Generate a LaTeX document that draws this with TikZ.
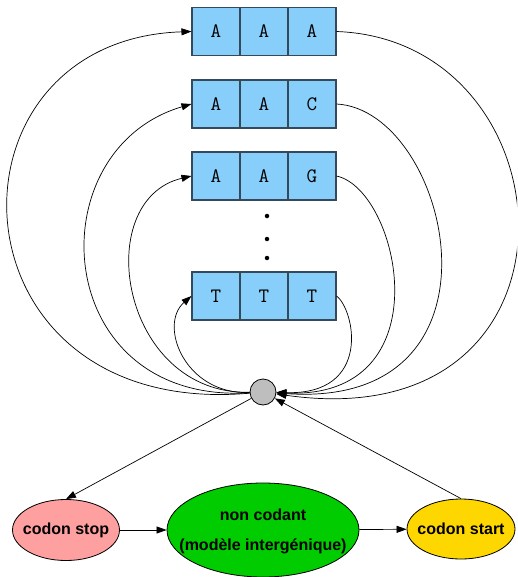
\documentclass[tikz,border=0pt]{standalone}
\usepackage{fontspec}
\setmainfont{Liberation Sans}
\newfontfamily\courfam{Latin Modern Mono}
\usetikzlibrary{shapes.geometric,arrows.meta}
\definecolor{boxblue}{HTML}{87CEFA}
\definecolor{boxedge}{HTML}{34495A}
\definecolor{stoppink}{HTML}{FFA0A0}
\definecolor{ncgreen}{HTML}{00CC00}
\definecolor{startgold}{HTML}{FFD700}
\definecolor{hubgray}{HTML}{BEBEBE}
\begin{document}
\begin{tikzpicture}[x=1pt,y=-1pt,
  cell/.style={draw=boxedge,line width=1.1pt,fill=boxblue,minimum width=48pt,minimum height=48pt,inner sep=0pt,font=\courfam\fontsize{20.5}{22}\selectfont},
  oval/.style={ellipse,draw=black,line width=0.8pt,inner sep=0pt},
  ovaltext/.style={inner sep=0pt,font=\bfseries\fontsize{16}{30}\selectfont,align=center},
  hub/.style={circle,draw=black,line width=0.8pt,fill=hubgray,minimum size=26pt,inner sep=0pt},
  link/.style={line width=0.7pt,-{Triangle[length=10pt,width=7pt]}},
  dotmark/.style={circle,fill=black,inner sep=0pt,minimum size=4.5pt}]
\useasboundingbox (0,0) rectangle (517,577);
\clip (0,0) rectangle (517,577);
% codon rows
\foreach \r/\y/\a/\b/\c in {1/31.5/A/A/A, 2/104/A/A/C, 3/176/A/A/G, 4/296/T/T/T}{
  \node[cell] (r\r a) at (216,\y) {\a};
  \node[cell] (r\r b) at (264,\y) {\b};
  \node[cell] (r\r c) at (312,\y) {\c};
}
\node[dotmark] (d1) at (267,216) {};
\node[dotmark] (d2) at (267,239) {};
\node[dotmark] (d3) at (267,258) {};
\node[hub] (hub) at (263,392) {};
\node[oval,fill=stoppink,minimum width=107pt,minimum height=61pt] (stop) at (66,530) {};
\node[ovaltext] (stoptxt) at (stop.center) {codon stop};
\node[oval,fill=ncgreen,minimum width=192pt,minimum height=94pt] (nc) at (263,530) {};
\node[ovaltext] (nctxt) at ([yshift=-1pt]nc.center) {non codant\\(modèle intergénique)};
\node[oval,fill=startgold,minimum width=108pt,minimum height=60pt] (start) at (461,529) {};
\node[ovaltext] (starttxt) at (start.center) {codon start};
% left loops: hub -> first cell
\draw[link] (hub) .. controls (-55,420) and (-68,40) .. (r1a.west);
\draw[link] (hub) .. controls (50,405) and (35,150) .. (r2a.west);
\draw[link] (hub) .. controls (120,395) and (90,200) .. (r3a.west);
\draw[link] (hub) .. controls (185,395) and (158,325) .. (r4a.west);
% right loops: last cell -> hub
\draw[link] (r1c.east) .. controls (575,40) and (600,440) .. (hub);
\draw[link] (r2c.east) .. controls (450,110) and (520,410) .. (hub);
\draw[link] (r3c.east) .. controls (400,190) and (445,400) .. (hub);
\draw[link] (r4c.east) .. controls (355,310) and (372,395) .. (hub);
% lower connections
\draw[link] (hub) -- (stop.north);
\draw[link] (start.north) -- (hub);
\draw[link] (stop) -- (nc);
\draw[link] (nc) -- (start);
\end{tikzpicture}
\end{document}
